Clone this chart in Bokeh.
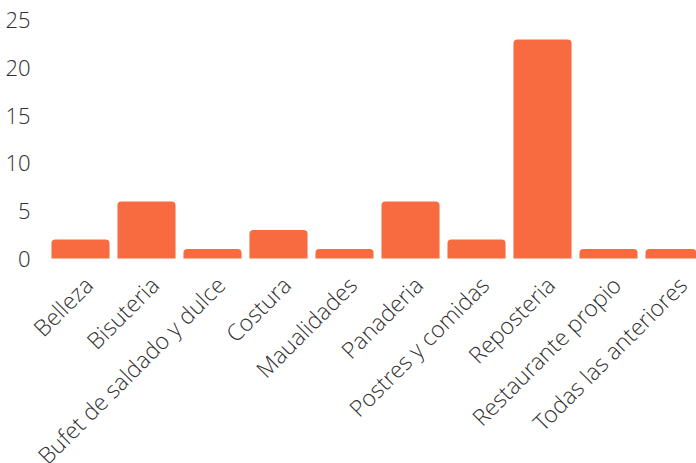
from bokeh.plotting import figure
from bokeh.models import Range1d, FixedTicker, ColumnDataSource, LabelSet
from bokeh.core.properties import value
from bokeh.embed import file_html
from bokeh.resources import INLINE
import math

categories = ["Belleza", "Bisuteria", "Bufet de saldado y dulce", "Costura",
              "Maualidades", "Panaderia", "Postres y comidas", "Reposteria",
              "Restaurante propio", "Todas las anteriores"]
values = [2, 6, 1, 3, 1, 6, 2, 23, 1, 1]
y_ticks = [0, 5, 10, 15, 20, 25]

FONT = "Open Sans Light"

xs = list(range(len(categories)))
src = ColumnDataSource(dict(x=xs, top=values, base=[0] * len(xs), label=categories))

# frame covers the whole canvas; tick labels and category labels lie inside it
p = figure(width=696, height=463, output_backend="svg", toolbar_location=None,
           x_range=Range1d(-1.212, 9.333), y_range=Range1d(-21.53, 27.1),
           min_border_left=0, min_border_right=0, min_border_top=0,
           min_border_bottom=0)
p.outline_line_color = None
p.background_fill_color = "white"
p.border_fill_color = "white"

p.vbar(x="x", top="top", width=0.88, bottom=0, source=src,
       fill_color="#F86A3F", line_color=None, border_radius=(4, 4, 0, 0))

p.xgrid.visible = False
p.ygrid.visible = False

p.yaxis.fixed_location = -0.5
p.yaxis.ticker = FixedTicker(ticks=y_ticks)
p.yaxis.axis_line_color = None
p.yaxis.major_tick_line_color = None
p.yaxis.minor_tick_line_color = None
p.yaxis.major_label_text_font = FONT
p.yaxis.major_label_text_font_size = "22px"
p.yaxis.major_label_text_color = "#333333"
p.yaxis.major_label_standoff = 11

p.xaxis.visible = False

labels = LabelSet(x="x", y="base", text="label", source=src,
                  x_offset=8, y_offset=-22, angle=math.pi / 4,
                  text_align="right", text_baseline="middle",
                  text_font=value(FONT), text_font_size=value("23px"),
                  text_color="#333333")
p.add_layout(labels)

open("out.html", "w").write(file_html(p, INLINE))
